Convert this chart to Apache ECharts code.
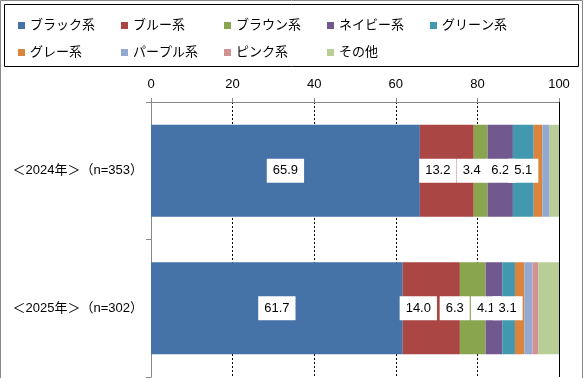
<!DOCTYPE html>
<html><head><meta charset="utf-8">
<script src="https://cdn.jsdelivr.net/npm/echarts@6/dist/echarts.min.js"></script>
<style>html,body{margin:0;padding:0;background:#fff}#c{width:584px;height:378px}</style>
</head><body><div id="c"></div>
<script>
const categories = ['＜2024年＞（n=353）', '＜2025年＞（n=302）'];
const seriesNames = ['ブラック系','ブルー系','ブラウン系','ネイビー系','グリーン系','グレー系','パープル系','ピンク系','その他'];
const black  = [65.9, 61.7];
const blue   = [13.2, 14.0];
const brown  = [3.4, 6.3];
const navy   = [6.2, 4.1];
const green  = [5.1, 3.1];
const gray   = [2.1, 2.3];
const purple = [1.8, 2.0];
const pink   = [0.0, 1.4];
const other  = [2.3, 5.1];
const xTicks = [0, 20, 40, 60, 80, 100];
const values = [black, blue, brown, navy, green, gray, purple, pink, other];

// style only: colours and label nudges (px) per series per category
const colors = ['#4572A7','#AA4643','#89A54E','#71588F','#4198AF','#DB843D','#93A9CF','#D19392','#B9CD96'];
const labelNudge = [[0,0],[-9,-13],[-9,-18],[0,-8],[0,-1]];
const FONT = 'Liberation Sans, Noto Sans CJK JP, sans-serif';

const chart = echarts.init(document.getElementById('c'));
const series = seriesNames.map((name, i) => ({
  name, type: 'bar', stack: 'total', barWidth: 92,
  itemStyle: { color: colors[i] },
  data: values[i].map((v, j) => {
    const item = { value: v };
    if (i < 5) item.label = { offset: [labelNudge[i][j], 0] };
    return item;
  }),
  label: {
    show: i < 5, position: 'inside', formatter: p => p.value.toFixed(1),
    backgroundColor: '#fff', color: '#000', fontSize: 13, fontFamily: FONT,
    padding: [6, 6, 5, 6]
  },
  markLine: i === 8 ? {
    silent: true, symbol: 'none', label: { show: false },
    lineStyle: { color: '#000', type: 'solid', width: 1 },
    data: [{ xAxis: xTicks[xTicks.length - 1] }]
  } : undefined
}));

chart.setOption({
  animation: false,
  textStyle: { fontFamily: FONT },
  legend: {
    left: 13, top: 12, width: 530, itemWidth: 7, itemHeight: 7, itemGap: 10,
    icon: 'rect', data: seriesNames,
    textStyle: { fontSize: 13, color: '#000', width: 81, lineHeight: 17, fontFamily: FONT }
  },
  grid: { left: 151, right: 25, top: 102, bottom: 1 },
  xAxis: {
    type: 'value', position: 'top', min: xTicks[0], max: xTicks[xTicks.length - 1], interval: 20,
    axisLine: { show: true, lineStyle: { color: '#888' } },
    axisTick: { show: true, length: 4, lineStyle: { color: '#888' } },
    axisLabel: { color: '#000', fontSize: 13, margin: 11, fontFamily: FONT },
    splitLine: { show: true, lineStyle: { color: '#000', type: [2, 2], width: 1 } }
  },
  yAxis: {
    type: 'category', inverse: true, data: categories,
    axisLine: { show: true, lineStyle: { color: '#888' } },
    axisTick: { show: true, length: 5, lineStyle: { color: '#888' } },
    axisLabel: { color: '#000', fontSize: 13, margin: 8, fontFamily: FONT }
  },
  graphic: [
    { type: 'rect', silent: true, z: -1, shape: { x: 0.5, y: 0.5, width: 582, height: 390 }, style: { fill: null, stroke: '#888', lineWidth: 1 } },
    { type: 'rect', silent: true, shape: { x: 4.5, y: 4.5, width: 574, height: 62 }, style: { fill: null, stroke: '#000', lineWidth: 1 } }
  ],
  series
});
</script></body></html>
